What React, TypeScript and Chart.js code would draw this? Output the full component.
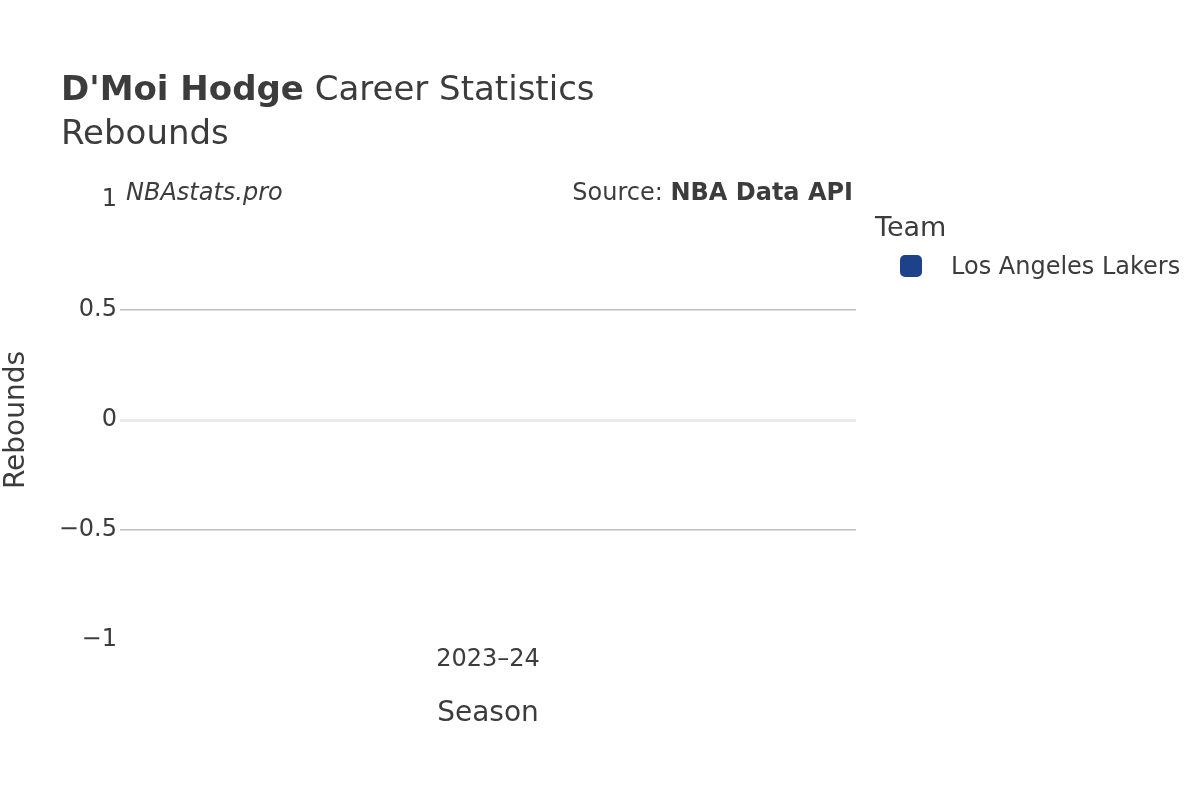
import { useEffect, useRef } from 'react';
import { Chart, registerables } from 'chart.js';

Chart.register(...registerables);

// Dados do gráfico
const seasons = ['2023–24'];
const teams = ['Los Angeles Lakers'];
const teamColors = ['#1d428a'];
const rebounds = [0];
const yTicks = [-1, -0.5, 0, 0.5, 1];

const textColor = '#3c3c3c';
const fontFamily = '"DejaVu Sans", sans-serif';

export default function App() {
  const chartRef = useRef<HTMLCanvasElement>(null);
  const chartInstance = useRef<Chart | null>(null);

  useEffect(() => {
    if (!chartRef.current) return;
    if (chartInstance.current) chartInstance.current.destroy();

    chartInstance.current = new Chart(chartRef.current, {
      type: 'bar',
      data: {
        labels: seasons,
        datasets: teams.map((team, i) => ({
          label: team,
          data: rebounds,
          backgroundColor: teamColors[i],
          borderWidth: 0,
        })),
      },
      options: {
        responsive: false,
        animation: false,
        layout: { padding: { top: 200, right: 344, left: 0, bottom: 0 } },
        plugins: {
          legend: { display: false },
          tooltip: { enabled: false },
          title: { display: false },
        },
        scales: {
          x: {
            grid: { display: false },
            border: { display: false },
            ticks: {
              color: textColor,
              font: { family: fontFamily, size: 24 },
              padding: -3,
            },
            title: {
              display: true,
              text: 'Season',
              color: textColor,
              font: { family: fontFamily, size: 28 },
              padding: { top: 0, bottom: 69 },
            },
            afterFit: (scale: any) => {
              scale.height = 160;
            },
          },
          y: {
            min: yTicks[0],
            max: yTicks[yTicks.length - 1],
            afterBuildTicks: (scale: any) => {
              scale.ticks = yTicks.map((v) => ({ value: v }));
            },
            grid: {
              drawTicks: false,
              color: (ctx: any) => {
                const v = ctx.tick?.value;
                if (v === 0) return '#ebebeb';
                if (Math.abs(v) === 1) return 'rgba(0,0,0,0)';
                return '#bebebe';
              },
              lineWidth: (ctx: any) => (ctx.tick?.value === 0 ? 3 : 1.5),
            },
            border: { display: false },
            ticks: {
              color: textColor,
              font: { family: fontFamily, size: 24 },
              padding: 3,
              callback: (v: any) => String(v).replace('-', '−'),
            },
            title: {
              display: true,
              text: 'Rebounds',
              color: textColor,
              font: { family: fontFamily, size: 28 },
              padding: { top: 0, bottom: 0 },
            },
            afterFit: (scale: any) => {
              scale.width = 120;
            },
          },
        },
      },
    });

    return () => {
      if (chartInstance.current) {
        chartInstance.current.destroy();
        chartInstance.current = null;
      }
    };
  }, []);

  return (
    <div
      style={{
        position: 'absolute',
        left: 0,
        top: 0,
        width: 1200,
        height: 800,
        background: '#fff',
        fontFamily,
        color: textColor,
        lineHeight: 1,
      }}
    >
      <canvas ref={chartRef} width={1200} height={800} style={{ position: 'absolute', left: 0, top: 0 }} />

      {/* Título */}
      <div style={{ position: 'absolute', left: 61, top: 71, fontSize: 34, whiteSpace: 'nowrap' }}>
        <b>D'Moi Hodge</b> Career Statistics
      </div>
      <div style={{ position: 'absolute', left: 61, top: 115, fontSize: 34, whiteSpace: 'nowrap' }}>
        Rebounds
      </div>

      {/* Marca d'água e fonte */}
      <div style={{ position: 'absolute', left: 126, top: 180, fontSize: 24, fontStyle: 'italic', whiteSpace: 'nowrap' }}>
        NBAstats.pro
      </div>
      <div style={{ position: 'absolute', right: 1200 - 853, top: 180, fontSize: 24, whiteSpace: 'nowrap' }}>
        Source: <b>NBA Data API</b>
      </div>

      {/* Legenda */}
      <div style={{ position: 'absolute', left: 875, top: 213, fontSize: 27, whiteSpace: 'nowrap' }}>Team</div>
      {teams.map((team, i) => (
        <div key={team} style={{ position: 'absolute', left: 900, top: 254 + i * 40, display: 'flex', alignItems: 'center' }}>
          <span
            style={{
              display: 'inline-block',
              width: 22,
              height: 22,
              borderRadius: 5,
              background: teamColors[i],
            }}
          />
          <span style={{ marginLeft: 29, fontSize: 24, whiteSpace: 'nowrap' }}>{team}</span>
        </div>
      ))}
    </div>
  );
}
